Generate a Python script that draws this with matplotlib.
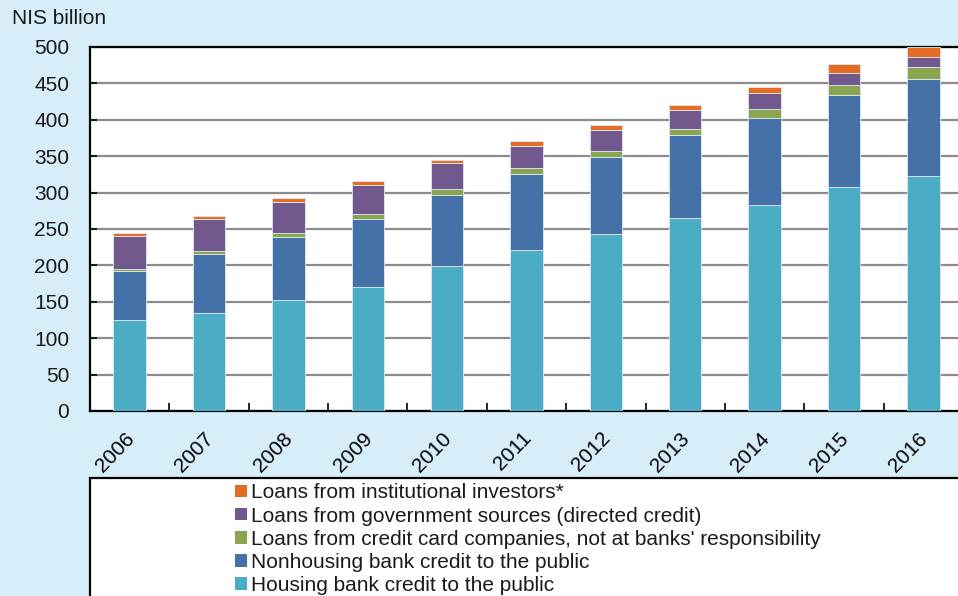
import matplotlib
matplotlib.use("Agg")
import matplotlib.pyplot as plt
from matplotlib.patches import Patch, Rectangle
import numpy as np

plt.rcParams['font.family'] = ['Liberation Sans', 'DejaVu Sans']

years = ["2006", "2007", "2008", "2009", "2010", "2011", "2012", "2013", "2014", "2015", "2016"]
housing = [125, 135, 152, 170, 199, 221, 243, 265, 283, 308, 323]
nonhousing = [67, 80, 87, 94, 98, 104, 106, 114, 120, 126, 133.5]
credit_card = [3.5, 4.5, 5, 7, 8, 8.5, 8.5, 9, 11.5, 14, 16]
government = [45.5, 44, 43, 40, 35, 31, 28, 25, 22, 16, 14]
institutional = [4, 5, 5, 5, 5, 6, 7, 8, 8, 12, 13]

series = [
    ("Housing bank credit to the public", housing, "#4bacc6"),
    ("Nonhousing bank credit to the public", nonhousing, "#4472a8"),
    ("Loans from credit card companies, not at banks' responsibility", credit_card, "#8aa54f"),
    ("Loans from government sources (directed credit)", government, "#71598e"),
    ("Loans from institutional investors*", institutional, "#e46d26"),
]

W, H = 958, 596
bg = "#d7eef9"
fs = 15
txt = "#1a1a1a"
fig = plt.figure(figsize=(W / 100, H / 100), dpi=100, facecolor=bg)

# plot area runs past the right edge of the figure
ax_left, ax_right, ax_top, ax_bottom = 90, 963, 47, 411
ax = fig.add_axes([ax_left / W, 1 - ax_bottom / H, (ax_right - ax_left) / W, (ax_bottom - ax_top) / H])
ax.set_facecolor("white")

x = np.arange(len(years))
bottom = np.zeros(len(years))
for name, vals, color in series:
    vals = np.array(vals, dtype=float)
    ax.bar(x, vals, width=0.41, bottom=bottom, color=color, edgecolor="#dfe8f0",
           linewidth=0.6, label=name, zorder=3)
    bottom += vals

ax.set_xlim(-0.5, len(years) - 0.5)
ax.set_ylim(0, 500)
ax.set_yticks(np.arange(0, 501, 50))
ax.yaxis.grid(True, color="#8c8c8c", linewidth=1.6, zorder=0)
ax.set_axisbelow(True)

for s in ["left", "bottom", "top"]:
    ax.spines[s].set_color("black")
    ax.spines[s].set_linewidth(1.6)
ax.spines["right"].set_visible(False)

ax.tick_params(axis="y", direction="in", length=5, width=1.2, pad=15,
               labelsize=fs, colors="black", labelcolor=txt)
ax.set_xticks(np.arange(len(years) + 1) - 0.5, minor=True)
ax.set_xticks(x)
ax.set_xticklabels([])
ax.tick_params(axis="x", which="major", length=0)
ax.tick_params(axis="x", which="minor", direction="in", length=6, width=1.2, colors="black")

for i, yr in enumerate(years):
    ax.annotate(yr, xy=(i, 0), xycoords=("data", "axes fraction"),
                xytext=(1, -17.5), textcoords="offset points",
                rotation=46, rotation_mode="anchor", ha="right", va="center",
                fontsize=fs, color="black")

fig.text(12 / W, 1 - 19 / H, "NIS billion", fontsize=fs, va="center", ha="left", color=txt)

# legend panel
fig.patches.append(Rectangle((ax_left / W, -0.05), 1.0, (H - 478) / H + 0.05,
                             transform=fig.transFigure, facecolor="white",
                             edgecolor="black", linewidth=1.6, zorder=1))
handles = [Patch(facecolor=c, edgecolor="none", label=n) for n, v, c in reversed(series)]
leg = fig.legend(handles=handles, loc="upper left", bbox_to_anchor=(225 / W, 1 - 473 / H),
                 frameon=False, fontsize=fs, handlelength=0.55, handleheight=0.55,
                 handletextpad=0.2, labelspacing=0.2, borderpad=0.0)
leg.set_zorder(2)
for t in leg.get_texts():
    t.set_color(txt)

fig.savefig("out.png", dpi=100, facecolor=bg)
